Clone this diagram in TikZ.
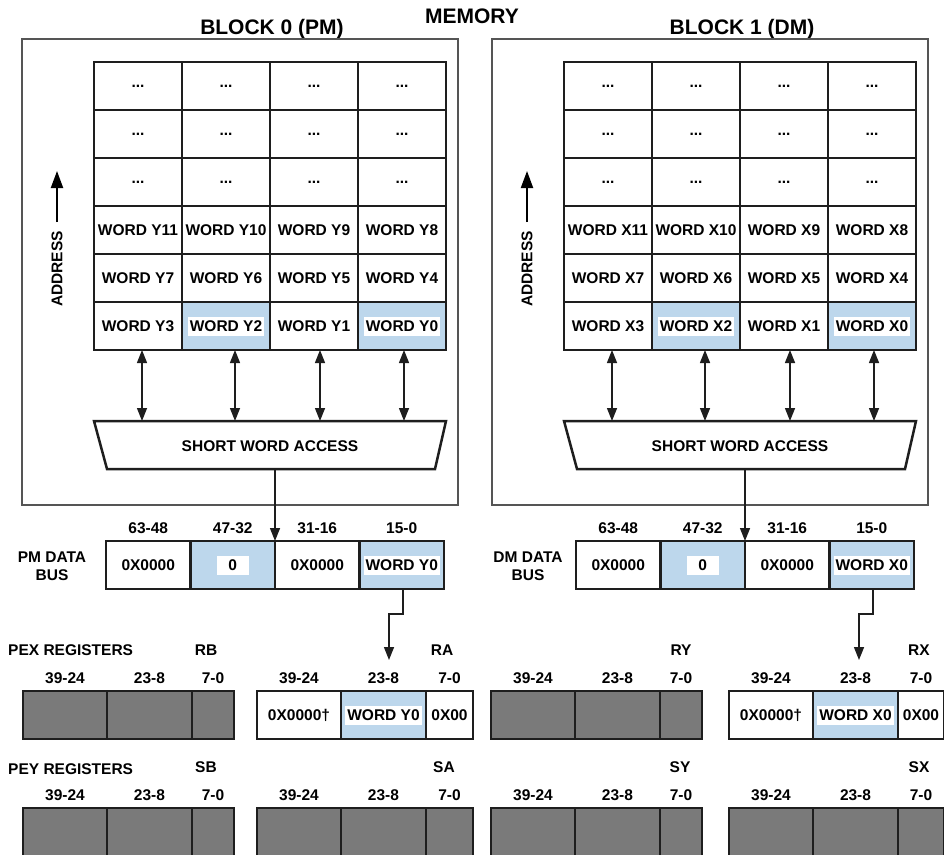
\documentclass[tikz,border=0pt]{standalone}
\usepackage{fontspec}
\setmainfont{Liberation Sans}
\usetikzlibrary{arrows.meta,calc}
\definecolor{hlblue}{RGB}{189,215,236}
\definecolor{reggray}{RGB}{122,122,122}
\definecolor{framegray}{RGB}{85,85,85}
\definecolor{ink}{RGB}{30,30,30}
\newcommand{\cf}{\fontsize{15.5}{18}\selectfont\bfseries}
\newcommand{\ttlf}{\fontsize{21}{24}\selectfont\bfseries}
\newcommand{\wb}[1]{{\setlength{\fboxsep}{2pt}\colorbox{white}{\rule[-2.5pt]{0pt}{15pt}#1}}}
\tikzset{
  cell/.style={draw=ink,line width=2.5pt,minimum width=88pt,minimum height=48pt,inner sep=0pt,outer sep=0pt,anchor=north west,font=\cf,fill=white},
  hl/.style={fill=hlblue},
  busc/.style={cell,minimum width=84.5pt},
  reg/.style={draw=ink,line width=2.5pt,inner sep=0pt,outer sep=0pt,anchor=north west,font=\cf,fill=white},
  lbl/.style={font=\cf,inner sep=0pt},
  ttl/.style={font=\ttlf,inner sep=0pt},
  frame/.style={draw=framegray,line width=1.4pt},
  trap/.style={draw=ink,line width=2.5pt,fill=white},
  arr/.style={draw=ink,line width=1.4pt,-{Triangle[length=13pt,width=10pt]}},
  dbl/.style={draw=ink,line width=1.4pt,{Triangle[length=13pt,width=10pt]}-{Triangle[length=13pt,width=10pt]}},
  bigarr/.style={draw=black,line width=2pt,-{Triangle[length=17pt,width=12pt]}},
}
% #1 xshift, #2 letter, #3 prefix, #4 title, #5 bus label, #6 bus label x
\newcommand{\memblock}[6]{%
\begin{scope}[xshift=#1pt]
  \node[ttl] (#3title) at (272,29) {#4};
  \draw[frame] (22,39) rectangle (458,505);
  \foreach \r in {0,1,2}{\foreach \c in {0,1,2,3}{\node[cell] (#3d\r\c) at (94+88*\c,62+48*\r) {...};}}
  \foreach \c/\n in {0/11,1/10,2/9,3/8}{\node[cell] (#3w\c) at (94+88*\c,206) {WORD #2\n};}
  \foreach \c/\n in {0/7,1/6,2/5,3/4}{\node[cell] (#3v\c) at (94+88*\c,254) {WORD #2\n};}
  \node[cell] (#3u0) at (94,302) {WORD #23};
  \node[cell,hl] (#3u1) at (182,302) {\wb{WORD #22}};
  \node[cell] (#3u2) at (270,302) {WORD #21};
  \node[cell,hl] (#3u3) at (358,302) {\wb{WORD #20}};
  % address arrow
  \coordinate (#3adrtail) at (57,222);
  \coordinate (#3adrtip) at (57,171);
  \draw[bigarr] (#3adrtail) -- (#3adrtip);
  \node[lbl,rotate=90] (#3adr) at (57,269) {ADDRESS};
  % short word access
  \draw[trap] (94,421) -- (446,421) -- (435,469) -- (107,469) -- cycle;
  \node[lbl] (#3sw) at (270,446) {SHORT WORD ACCESS};
  \coordinate (#3swtop) at (270,421);
  \coordinate (#3swbot) at (275,469);
  \foreach \c/\dx in {0/4,1/9,2/6,3/2}{%
    \draw[dbl] ($(#3u\c.south)+(\dx,0)$) -- ($(#3u\c.south |- #3swtop)+(\dx,0)$);}
  % bus
  \node[busc] (#3b0) at (106,541) {0X0000};
  \node[busc,hl] (#3b1) at (190.5,541) {\wb{\makebox[28pt]{0}}};
  \node[busc] (#3b2) at (275,541) {0X0000};
  \node[busc,hl] (#3b3) at (359.5,541) {\wb{WORD #20}};
  \foreach \c/\t in {0/63-48,1/47-32,2/31-16,3/15-0}{\node[lbl] (#3bh\c) at (148.25+84.5*\c,528) {\t};}
  \node[lbl,align=center] (#3buslbl) at (#6,566) {#5};
  \draw[arr] (#3swbot) -- (#3b2.north west);
  \coordinate (#3regin) at (389,660);
  \draw[arr] ($(#3b3.south)+(1.25,0)$) -- ++(0,25) -| (#3regin);
\end{scope}}
% registers
\newcommand{\reghead}[5]{%
  \node[lbl] (#1lbl) at (#5,#3-41) {#1};
  \node[lbl] (#1h1) at (#2+42,#3-13) {39-24};
  \node[lbl] (#1h2) at (#2+126.5,#3-13) {23-8};
  \node[lbl] (#1h3) at (#2+169+#4/2,#3-13) {7-0};}
% #1 name #2 x #3 y #4 wc #5 labelx #6 height
\newcommand{\grayreg}[6]{%
  \node[reg,fill=reggray,minimum width=84pt,minimum height=#6pt] (#1a) at (#2,#3) {};
  \node[reg,fill=reggray,minimum width=85pt,minimum height=#6pt] (#1b) at (#2+84,#3) {};
  \node[reg,fill=reggray,minimum width=#4pt,minimum height=#6pt] (#1c) at (#2+169,#3) {};
  \reghead{#1}{#2}{#3}{#4}{#5}}
% #1 name #2 x #3 y #4 wc #5 labelx #6 letter
\newcommand{\datareg}[6]{%
  \node[reg,minimum width=84pt,minimum height=48pt] (#1a) at (#2,#3) {0X0000†};
  \node[reg,hl,minimum width=85pt,minimum height=48pt] (#1b) at (#2+84,#3) {\wb{WORD #60}};
  \node[reg,minimum width=#4pt,minimum height=48pt] (#1c) at (#2+169,#3) {0X00};
  \reghead{#1}{#2}{#3}{#4}{#5}}
\begin{document}
\begin{tikzpicture}[x=1pt,y=-1pt]
  \useasboundingbox (0,0) rectangle (944,854);
  \clip (0,0) rectangle (944,854);
  \node[ttl] (memtitle) at (472,16) {MEMORY};
  \memblock{0}{Y}{L}{BLOCK 0 (PM)}{PM DATA\\BUS}{52}
  \memblock{470}{X}{R}{BLOCK 1 (DM)}{DM DATA\\BUS}{58}
  \node[lbl,anchor=west] (pex) at (8,650) {PEX REGISTERS};
  \node[lbl,anchor=west] (pey) at (8,769) {PEY REGISTERS};
  \grayreg{RB}{23}{691}{42}{206}{48}
  \datareg{RA}{257}{691}{47}{442}{Y}
  \grayreg{RY}{491}{691}{42}{681}{48}
  \datareg{RX}{729}{691}{46}{919}{X}
  \grayreg{SB}{23}{808}{42}{206}{70}
  \grayreg{SA}{257}{808}{47}{444}{70}
  \grayreg{SY}{491}{808}{42}{680}{70}
  \grayreg{SX}{729}{808}{46}{919}{70}
\end{tikzpicture}
\end{document}
